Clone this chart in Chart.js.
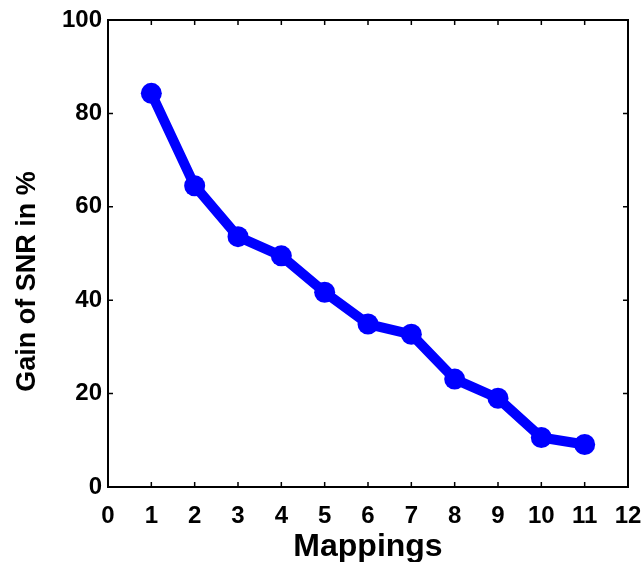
<!DOCTYPE html>
<html lang="en">
<head>
    <meta charset="UTF-8">
    <title>Gain of SNR</title>
    <script src="https://cdn.jsdelivr.net/npm/chart.js"></script>
    <style>
        html, body { margin: 0; padding: 0; background: #fff; }
        #wrap { width: 644px; height: 562px; }
    </style>
</head>
<body>
    <div id="wrap"><canvas id="snrChart" width="644" height="562"></canvas></div>

    <script>
        // values
        const mappings = [1, 2, 3, 4, 5, 6, 7, 8, 9, 10, 11];
        const gainSNR = [84.3, 64.5, 53.6, 49.5, 41.7, 34.9, 32.7, 23.1, 19.0, 10.6, 9.1];
        const xTicks = [0, 1, 2, 3, 4, 5, 6, 7, 8, 9, 10, 11, 12];
        const yTicks = [0, 20, 40, 60, 80, 100];
        const yTitle = 'Gain of SNR in %';

        const fontFamily = '"Liberation Sans", Arial, Helvetica, sans-serif';

        // box around the plot, inward tick marks on all four sides, y title
        const boxPlugin = {
            id: 'box',
            afterDraw(chart) {
                const { ctx, chartArea: a, scales } = chart;
                const len = 5;
                ctx.save();
                ctx.strokeStyle = '#000';
                ctx.lineWidth = 1.5;
                ctx.beginPath();
                xTicks.forEach(v => {
                    const px = scales.x.getPixelForValue(v);
                    ctx.moveTo(px, a.bottom); ctx.lineTo(px, a.bottom - len);
                    ctx.moveTo(px, a.top); ctx.lineTo(px, a.top + len);
                });
                yTicks.forEach(v => {
                    const py = scales.y.getPixelForValue(v);
                    ctx.moveTo(a.left, py); ctx.lineTo(a.left + len, py);
                    ctx.moveTo(a.right, py); ctx.lineTo(a.right - len, py);
                });
                ctx.stroke();
                ctx.lineWidth = 2;
                ctx.strokeRect(a.left, a.top, a.right - a.left, a.bottom - a.top);

                // y title sits a bit below the axis middle in the original
                ctx.translate(35, scales.y.getPixelForValue(44));
                ctx.rotate(-Math.PI / 2);
                ctx.fillStyle = '#000';
                ctx.font = 'bold 27px ' + fontFamily;
                ctx.textAlign = 'center';
                ctx.textBaseline = 'alphabetic';
                ctx.fillText(yTitle, 0, 0);
                ctx.restore();
            }
        };

        const ctx = document.getElementById('snrChart').getContext('2d');
        new Chart(ctx, {
            type: 'line',
            data: {
                datasets: [{
                    data: mappings.map((m, i) => ({ x: m, y: gainSNR[i] })),
                    borderColor: '#0000ff',
                    backgroundColor: '#0000ff',
                    borderWidth: 10,
                    borderJoinStyle: 'round',
                    borderCapStyle: 'round',
                    pointRadius: 10.5,
                    pointBorderWidth: 0,
                    pointBackgroundColor: '#0000ff',
                    tension: 0
                }]
            },
            options: {
                responsive: false,
                animation: false,
                layout: { padding: { top: 20, right: 16, left: 0, bottom: 0 } },
                plugins: { legend: { display: false }, tooltip: { enabled: false } },
                scales: {
                    x: {
                        type: 'linear',
                        min: 0,
                        max: 12,
                        afterBuildTicks: s => { s.ticks = xTicks.map(v => ({ value: v })); },
                        afterFit: s => { s.height = 75; s.paddingLeft = 0; s.paddingRight = 0; },
                        grid: { display: false, drawTicks: false },
                        border: { display: false },
                        ticks: {
                            color: '#000',
                            padding: 15,
                            maxRotation: 0,
                            autoSkip: false,
                            font: { family: fontFamily, size: 24, weight: 'bold' }
                        },
                        title: {
                            display: true,
                            text: 'Mappings',
                            color: '#000',
                            padding: { top: 0, bottom: -4 },
                            font: { family: fontFamily, size: 32, weight: 'bold' }
                        }
                    },
                    y: {
                        min: 0,
                        max: 100,
                        afterBuildTicks: s => { s.ticks = yTicks.map(v => ({ value: v })); },
                        afterFit: s => { s.width = 108; s.paddingTop = 0; s.paddingBottom = 0; },
                        grid: { display: false, drawTicks: false },
                        border: { display: false },
                        ticks: {
                            color: '#000',
                            padding: 6,
                            font: { family: fontFamily, size: 24, weight: 'bold' }
                        }
                    }
                }
            },
            plugins: [boxPlugin]
        });
    </script>
</body>
</html>
